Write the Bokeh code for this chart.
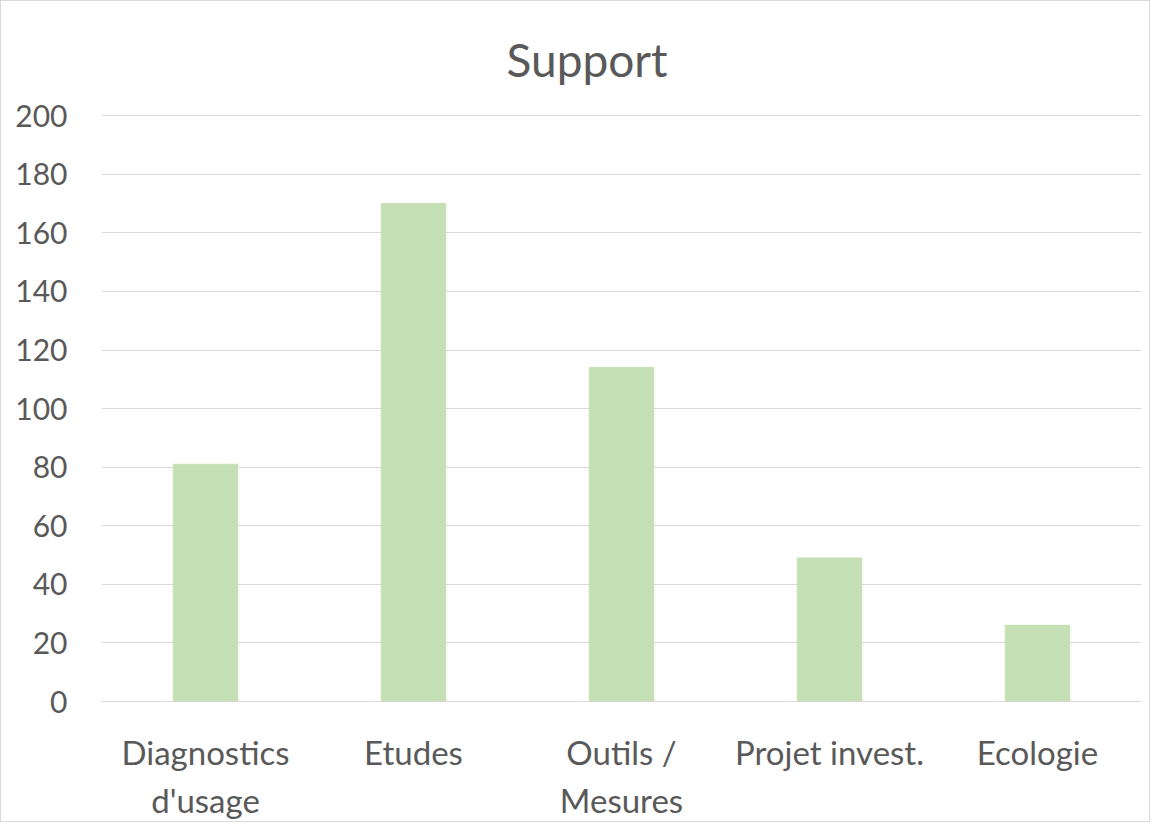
from bokeh.plotting import figure
from bokeh.models import ColumnDataSource, FixedTicker, Range1d
from bokeh.embed import file_html
from bokeh.resources import INLINE

title_text = "Support"
categories = ["Diagnostics\nd'usage", "Etudes", "Outils /\nMesures", "Projet invest.", "Ecologie"]
values = [81, 170, 114, 49, 26]
y_ticks = [0, 20, 40, 60, 80, 100, 120, 140, 160, 180, 200]

source = ColumnDataSource(data=dict(cat=categories, val=values))

FONT = "Lato"
TXT = "#595959"
GRID = "#D9D9D9"

p = figure(
    x_range=categories,
    y_range=Range1d(0, 200.4),
    width=1150, height=822,
    output_backend="svg", toolbar_location=None,
    min_border_left=100, min_border_right=10, min_border_top=112, min_border_bottom=122,
    title=title_text,
)
p.styles = {"border": "1px solid #D9D9D9"}

p.vbar(x="cat", top="val", width=0.31, source=source,
       fill_color="#C5E0B4", line_color="#C5E0B4", line_width=1)

p.title.align = "left"
p.title.offset = 405
p.title.text_font = FONT
p.title.text_font_size = "46px"
p.title.text_font_style = "normal"
p.title.text_color = TXT
p.title.standoff = 56

p.outline_line_color = None
p.background_fill_color = "white"
p.border_fill_color = "white"

p.xgrid.grid_line_color = None
p.ygrid.grid_line_color = GRID
p.ygrid.grid_line_width = 1

p.yaxis.ticker = FixedTicker(ticks=y_ticks)
p.yaxis.axis_line_color = None
p.yaxis.major_tick_line_color = None
p.yaxis.minor_tick_line_color = None
p.yaxis.major_label_text_font = FONT
p.yaxis.major_label_text_font_size = "30px"
p.yaxis.major_label_text_color = TXT
p.yaxis.major_label_standoff = 28

p.xaxis.axis_line_color = GRID
p.xaxis.major_tick_line_color = None
p.xaxis.minor_tick_line_color = None
p.xaxis.major_label_text_font = FONT
p.xaxis.major_label_text_font_size = "33px"
p.xaxis.major_label_text_color = TXT
p.xaxis.major_label_standoff = 24
p.x_range.range_padding = 0

open("out.html", "w").write(file_html(p, INLINE))
